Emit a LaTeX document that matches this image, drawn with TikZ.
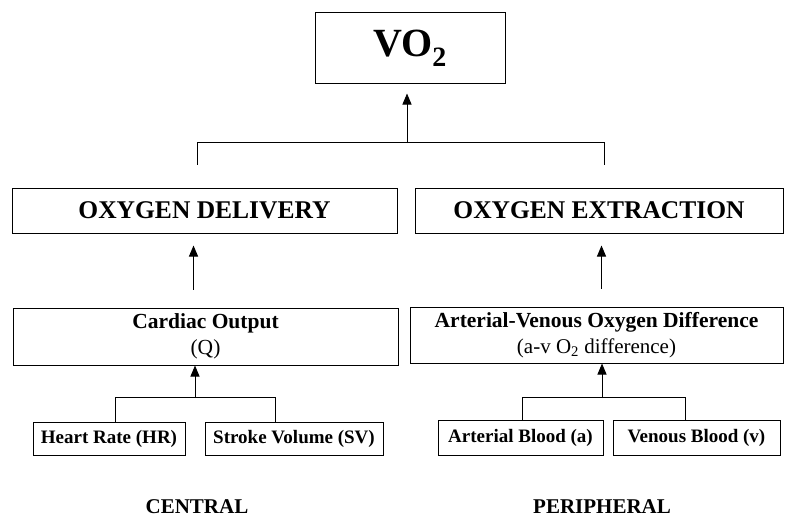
\documentclass[tikz,border=0pt]{standalone}
\usepackage{fontspec}
\setmainfont{Liberation Serif}
\usetikzlibrary{arrows.meta,positioning}

\begin{document}
\begin{tikzpicture}[x=1pt, y=-1pt,
    box/.style={rectangle, draw=black, line width=1pt, inner sep=0pt,
                align=center, font=\bfseries},
    link/.style={line width=1pt},
    arr/.style={line width=1pt, -{Triangle[length=11pt, width=9pt]}},
    side/.style={font=\bfseries\fontsize{21}{24}\selectfont}
  ]
  \useasboundingbox (0,0) rectangle (791,519);

  % top level
  \node[box, minimum width=190pt, minimum height=70pt,
        font=\bfseries\fontsize{40}{42}\selectfont] (vo2) at (410,48)
        {VO\textsubscript{2}};

  % oxygen boxes
  \node[box, minimum width=385pt, minimum height=45pt,
        font=\bfseries\fontsize{25.5}{28}\selectfont] (deliv) at (204.5,210.5)
        {OXYGEN DELIVERY};
  \node[box, minimum width=368pt, minimum height=45pt,
        font=\bfseries\fontsize{25.5}{28}\selectfont] (extr) at (599,210.5)
        {OXYGEN EXTRACTION};

  % second level
  \node[box, minimum width=385pt, minimum height=57pt,
        font=\fontsize{21.5}{26}\selectfont] (cardiac) at (205.5,336.5)
        {\textbf{Cardiac Output}\\\mdseries(Q)};
  \node[box, minimum width=373pt, minimum height=56pt,
        font=\fontsize{21.5}{26}\selectfont] (avdiff) at (596.5,335)
        {\textbf{Arterial-Venous Oxygen Difference}\\\mdseries\fontsize{21}{26}\selectfont(a-v O\textsubscript{2} difference)};

  % bottom level
  \node[box, minimum width=152pt, minimum height=33pt,
        font=\bfseries\fontsize{19}{22}\selectfont] (hr) at (109,438.5) {Heart Rate (HR)};
  \node[box, minimum width=178pt, minimum height=33pt,
        font=\bfseries\fontsize{19}{22}\selectfont] (sv) at (294,438.5) {Stroke Volume (SV)};
  \node[box, minimum width=165pt, minimum height=35pt,
        font=\bfseries\fontsize{19}{22}\selectfont] (art) at (520.5,437.5) {Arterial Blood (a)};
  \node[box, minimum width=167pt, minimum height=35pt,
        font=\bfseries\fontsize{19}{22}\selectfont] (ven) at (696.5,437.5) {Venous Blood (v)};

  \node[side] (central) at (197,507) {CENTRAL};
  \node[side] (periph) at (602,507) {PERIPHERAL};

  % joints
  \coordinate (topjoin) at (407,143);
  \coordinate (cjoin) at (195,398);
  \coordinate (pjoin) at (602,398);

  % connectors
  \draw[link] ([xshift=-7.5pt, yshift=23pt]deliv.north) -- ++(0,-22)
              -| ([xshift=5pt, yshift=23pt]extr.north);
  \draw[arr] (topjoin) -- ([yshift=-10pt]vo2.south -| topjoin);

  \draw[arr] ([xshift=-12pt, yshift=18pt]cardiac.north) -- ([xshift=-11pt, yshift=-12pt]deliv.south);
  \draw[arr] ([xshift=5pt, yshift=18pt]avdiff.north) -- ([xshift=2.5pt, yshift=-12pt]extr.south);

  \draw[link] ([xshift=6pt]hr.north) -- ++(0,-24) -| ([xshift=-19pt]sv.north);
  \draw[arr] (cjoin) -- (cardiac.south -| cjoin);
  \draw[link] ([xshift=1.5pt]art.north) -- ++(0,-22) -| ([xshift=-11.5pt]ven.north);
  \draw[arr] (pjoin) -- (avdiff.south -| pjoin);
\end{tikzpicture}
\end{document}
